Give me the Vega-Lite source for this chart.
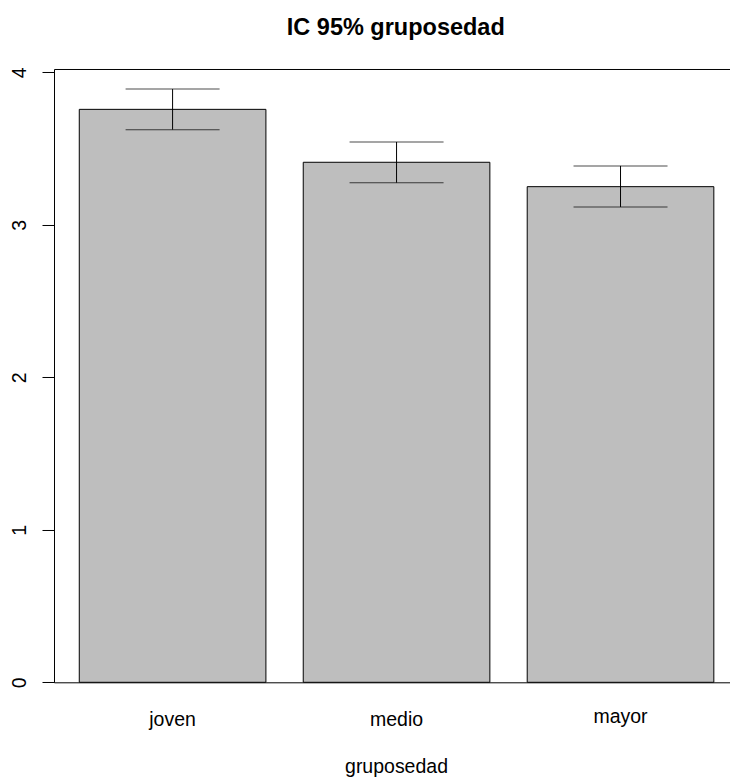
{
  "$schema": "https://vega.github.io/schema/vega-lite/v6.json",
  "autosize": "none",
  "padding": {"left": 54, "top": 69, "right": 0, "bottom": 96},
  "width": 676,
  "height": 613.3,
  "background": "white",
  "config": {
    "view": {"stroke": null},
    "font": "Liberation Sans",
    "axis": {"grid": false, "labelFont": "Liberation Sans", "titleFont": "Liberation Sans", "labelColor": "black", "titleColor": "black"}
  },
  "title": {
    "text": "IC 95% gruposedad",
    "font": "Liberation Sans",
    "fontSize": 23.5,
    "fontWeight": "bold",
    "color": "black",
    "anchor": "middle",
    "frame": "group",
    "baseline": "alphabetic",
    "dx": 3.8,
    "offset": 8
  },
  "data": {
    "values": [
      {"grupo": "joven", "media": 3.757, "lo": 3.624, "hi": 3.890},
      {"grupo": "medio", "media": 3.410, "lo": 3.276, "hi": 3.543},
      {"grupo": "mayor", "media": 3.250, "lo": 3.117, "hi": 3.386}
    ]
  },
  "resolve": {"axis": {"x": "independent"}},
  "layer": [
    {
      "mark": {"type": "bar", "fill": "#BEBEBE", "stroke": "black", "strokeWidth": 1},
      "encoding": {
        "x": {
          "field": "grupo", "type": "nominal", "sort": null,
          "scale": {"type": "band", "paddingInner": 0.1667, "paddingOuter": 0.0925, "align": 0.61},
          "axis": {
            "orient": "bottom",
            "title": "gruposedad",
            "titleFontSize": 19.5,
            "titleFontWeight": "normal",
            "titleBaseline": "alphabetic",
            "titleAlign": "center",
            "titleX": 342,
            "titleY": 90.4,
            "domain": true, "domainColor": "black", "domainWidth": 1,
            "ticks": false, "tickSize": 0,
            "labelAngle": 0,
            "labelFontSize": 19.5,
            "labelBaseline": "alphabetic",
            "labelAlign": "center",
            "labelPadding": {"condition": {"test": "datum.value === 'mayor'", "value": 40}, "value": 43.4}
          }
        },
        "y": {
          "field": "media", "type": "quantitative",
          "scale": {"domain": [0, 4.0216], "nice": false, "zero": true},
          "axis": {
            "title": null,
            "values": [0, 1, 2, 3, 4],
            "format": "d",
            "domain": true, "domainColor": "black", "domainWidth": 1,
            "ticks": true, "tickSize": 12, "tickColor": "black", "tickWidth": 1,
            "labelAngle": -90,
            "labelAlign": "center",
            "labelBaseline": "alphabetic",
            "labelFontSize": 19.5,
            "labelPadding": 17
          }
        }
      }
    },
    {
      "mark": {"type": "rule", "color": "black", "strokeWidth": 1},
      "encoding": {
        "x": {
          "field": "grupo", "type": "nominal", "sort": null,
          "axis": {"orient": "top", "labels": false, "ticks": false, "title": null, "domain": true, "domainColor": "black", "domainWidth": 1}
        },
        "y": {"field": "lo", "type": "quantitative"},
        "y2": {"field": "hi"}
      }
    },
    {
      "mark": {"type": "tick", "color": "black", "size": 94, "thickness": 1},
      "encoding": {
        "x": {"field": "grupo", "type": "nominal", "sort": null, "axis": null},
        "y": {"field": "lo", "type": "quantitative"}
      }
    },
    {
      "mark": {"type": "tick", "color": "black", "size": 94, "thickness": 1},
      "encoding": {
        "x": {"field": "grupo", "type": "nominal", "sort": null, "axis": null},
        "y": {"field": "hi", "type": "quantitative"}
      }
    }
  ]
}
